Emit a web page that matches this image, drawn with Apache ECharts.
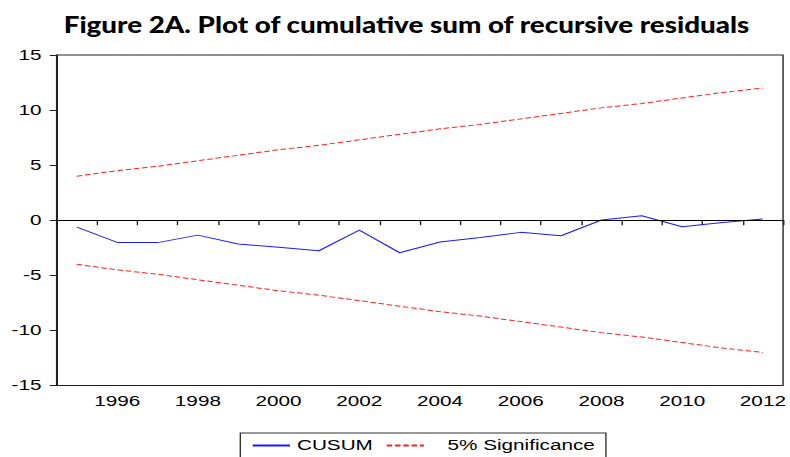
<!DOCTYPE html>
<html>
<head>
<meta charset="utf-8">
<script src="https://cdn.jsdelivr.net/npm/echarts@6/dist/echarts.min.js"></script>
<style>
  html, body { margin: 0; padding: 0; background: #fff; overflow: hidden; }
  #wrap { width: 790px; height: 457px; overflow: hidden; }
  /* the reference is stretched sideways, so draw narrower and stretch it */
  #chart { width: 572px; height: 457px; transform: scaleX(1.3811); transform-origin: 0 0; }
</style>
</head>
<body>
<div id="wrap"><div id="chart"></div></div>
<script>
var years = ['1995', '1996', '1997', '1998', '1999', '2000', '2001', '2002', '2003',
             '2004', '2005', '2006', '2007', '2008', '2009', '2010', '2011', '2012'];
var cusum = [-0.62, -2.01, -2.03, -1.35, -2.16, -2.45, -2.77, -0.89, -2.95,
             -1.98, -1.57, -1.10, -1.41, 0.02, 0.41, -0.59, -0.20, 0.11];
var upperBand = [4.0, 4.5, 4.9, 5.4, 5.9, 6.4, 6.8, 7.3, 7.8,
                 8.3, 8.7, 9.2, 9.7, 10.2, 10.6, 11.1, 11.6, 12.0];
var lowerBand = [-4.0, -4.5, -4.9, -5.4, -5.9, -6.4, -6.8, -7.3, -7.8,
                 -8.3, -8.7, -9.2, -9.7, -10.2, -10.6, -11.1, -11.6, -12.0];
var yTicks = { min: -15, max: 15, step: 5 };
var titleText = 'Figure 2A. Plot of cumulative sum of recursive residuals';

var stretch = 1.3811;
var titleFont = '900 22px Lato';

// title is not stretched in the reference: squeeze it back to its width
var cv = document.createElement('canvas').getContext('2d');
cv.font = titleFont;
var titleScale = (687 / stretch) / cv.measureText(titleText).width;

var chart = echarts.init(document.getElementById('chart'), null, { renderer: 'svg' });

var axisColor = '#222';
var labelFont = { color: '#000', fontSize: 15, fontFamily: 'Liberation Sans, Arial, sans-serif' };

var option = {
    animation: false,
    backgroundColor: '#fff',
    graphic: [{
        type: 'text',
        x: 406.5 / stretch,
        y: 24,
        scaleX: titleScale,
        style: {
            text: titleText,
            font: titleFont,
            fill: '#000',
            textAlign: 'center',
            textVerticalAlign: 'middle'
        }
    }],
    grid: {
        left: 41,
        right: 3,
        top: 55,
        bottom: 71.5,
        show: true,
        borderColor: axisColor,
        borderWidth: 1,
        containLabel: false
    },
    legend: {
        data: ['CUSUM', '5% Significance'],
        left: 174,
        top: 433,
        padding: [5, 8, 12, 8],
        borderColor: '#333',
        borderWidth: 1,
        itemWidth: 27,
        itemHeight: 12,
        itemGap: 9,
        itemStyle: { opacity: 0 },
        textStyle: {
            color: '#000',
            fontSize: 15,
            fontFamily: 'Liberation Sans, Arial, sans-serif',
            rich: { gap: { width: 12 } }
        },
        formatter: function (name) {
            return name === 'CUSUM' ? name : '{gap|}' + name;
        }
    },
    xAxis: {
        type: 'category',
        data: years,
        boundaryGap: true,
        axisLine: { lineStyle: { color: axisColor, width: 1 } },
        axisTick: { show: true, interval: 0, length: 5, lineStyle: { color: axisColor } },
        axisLabel: Object.assign({
            margin: 8,
            interval: function (index) { return index % 2 === 1; }
        }, labelFont),
        splitLine: { show: false }
    },
    yAxis: {
        type: 'value',
        min: yTicks.min,
        max: yTicks.max,
        interval: yTicks.step,
        axisLine: { show: true, lineStyle: { color: axisColor, width: 1 } },
        axisTick: { show: true, length: 5, lineStyle: { color: axisColor } },
        axisLabel: Object.assign({ margin: 11 }, labelFont),
        splitLine: { show: false }
    },
    series: [
        {
            name: 'CUSUM',
            type: 'line',
            data: cusum,
            symbol: 'none',
            lineStyle: { color: '#1a1aff', width: 1 },
            itemStyle: { color: '#1a1aff' },
            markLine: {
                silent: true,
                symbol: 'none',
                label: { show: false },
                lineStyle: { color: '#000', width: 1, type: 'solid' },
                data: [{ yAxis: 0 }]
            },
            z: 3
        },
        {
            name: '5% Significance',
            type: 'line',
            data: upperBand,
            symbol: 'none',
            lineStyle: { color: '#ff2020', width: 1, type: [4, 2] },
            itemStyle: { color: '#ff2020' }
        },
        {
            name: '5% Significance',
            type: 'line',
            data: lowerBand,
            symbol: 'none',
            lineStyle: { color: '#ff2020', width: 1, type: [4, 2] },
            itemStyle: { color: '#ff2020' }
        }
    ]
};

chart.setOption(option);
</script>
</body>
</html>
